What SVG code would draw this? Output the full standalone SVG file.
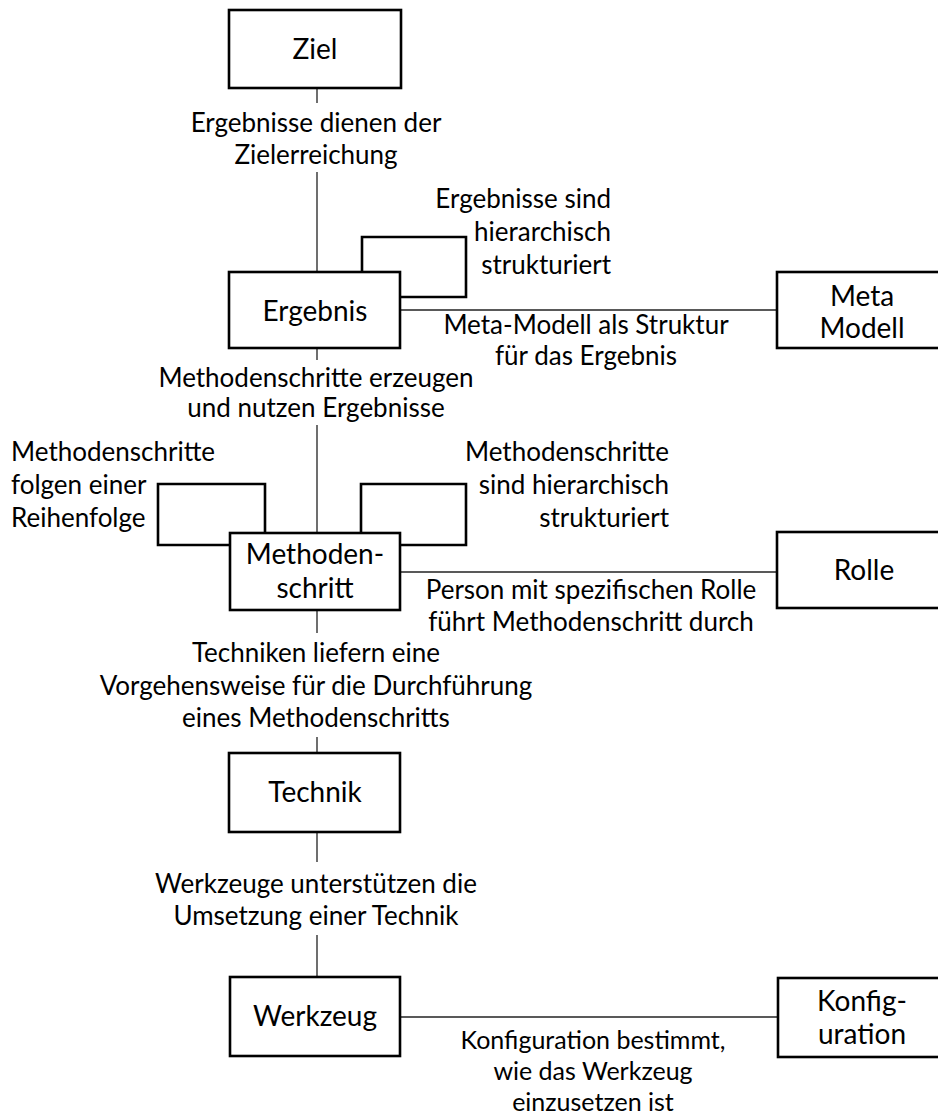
<svg xmlns="http://www.w3.org/2000/svg" width="938" height="1117" viewBox="0 0 938 1117">
  <style>
    .box { fill: #ffffff; stroke: #000000; stroke-width: 2.6; }
    .loop { fill: none; stroke: #000000; stroke-width: 2.6; }
    .edge { fill: none; stroke: #222222; stroke-width: 1.3; }
    .node { font-family: Lato, "Liberation Sans", sans-serif; font-size: 28px; fill: #000000; text-anchor: middle; }
    .lbl { font-family: Lato, "Liberation Sans", sans-serif; font-size: 26px; fill: #000000; }
    .c { text-anchor: middle; }
    .r { text-anchor: end; }
    .l { text-anchor: start; }
    .sm { font-size: 25px; }
  </style>

  <!-- connectors and self-references -->
  <g id="connectors">
    <path class="edge" d="M317 88 V103 M317 172 V272"/>
    <path class="edge" d="M317 348 V360 M317 425 V533"/>
    <path class="edge" d="M317 610 V633 M317 737 V753"/>
    <path class="edge" d="M317 832 V862 M317 935 V977"/>
    <path class="edge" d="M400 310 H777"/>
    <path class="edge" d="M400 572 H777"/>
    <path class="edge" d="M400 1017 H778"/>
    <path class="loop" d="M362 272 V237 H466 V297 H400"/>
    <path class="loop" d="M265 533 V484 H158 V545 H230"/>
    <path class="loop" d="M361 533 V484 H466 V545 H400"/>
  </g>

  <!-- edge labels -->
  <g id="labels" class="lbl">
    <text class="c" x="316" y="132">Ergebnisse dienen der</text>
    <text class="c" x="316" y="164">Zielerreichung</text>

    <text class="r" x="611" y="208">Ergebnisse sind</text>
    <text class="r" x="611" y="241">hierarchisch</text>
    <text class="r" x="611" y="274">strukturiert</text>

    <text class="c" x="586" y="334">Meta-Modell als Struktur</text>
    <text class="c" x="586" y="365">für das Ergebnis</text>

    <text class="c" x="316" y="387">Methodenschritte erzeugen</text>
    <text class="c" x="316" y="417">und nutzen Ergebnisse</text>

    <text class="l" x="11" y="461">Methodenschritte</text>
    <text class="l" x="11" y="494">folgen einer</text>
    <text class="l" x="11" y="527">Reihenfolge</text>

    <text class="r" x="669" y="461">Methodenschritte</text>
    <text class="r" x="669" y="494">sind hierarchisch</text>
    <text class="r" x="669" y="527">strukturiert</text>

    <text class="c" x="591" y="599">Person mit spezifischen Rolle</text>
    <text class="c" x="591" y="631">führt Methodenschritt durch</text>

    <text class="c" x="316" y="662">Techniken liefern eine</text>
    <text class="c" x="316" y="695">Vorgehensweise für die Durchführung</text>
    <text class="c" x="316" y="727">eines Methodenschritts</text>

    <text class="c" x="316" y="893">Werkzeuge unterstützen die</text>
    <text class="c" x="316" y="925">Umsetzung einer Technik</text>

    <text class="c sm" x="593" y="1049">Konfiguration bestimmt,</text>
    <text class="c sm" x="593" y="1080">wie das Werkzeug</text>
    <text class="c sm" x="593" y="1111">einzusetzen ist</text>
  </g>

  <g id="node-ziel">
    <rect class="box" x="229" y="10" width="172" height="78"/>
    <text class="node" x="315" y="59">Ziel</text>
  </g>
  <g id="node-ergebnis">
    <rect class="box" x="229" y="272" width="171" height="76"/>
    <text class="node" x="315" y="321">Ergebnis</text>
  </g>
  <g id="node-metamodell">
    <rect class="box" x="777" y="272" width="172" height="76"/>
    <text class="node" x="862" y="306">Meta</text>
    <text class="node" x="862" y="338">Modell</text>
  </g>
  <g id="node-methodenschritt">
    <rect class="box" x="230" y="533" width="170" height="77"/>
    <text class="node" x="315" y="564">Methoden-</text>
    <text class="node" x="315" y="598">schritt</text>
  </g>
  <g id="node-rolle">
    <rect class="box" x="777" y="532" width="172" height="76"/>
    <text class="node" x="864" y="580">Rolle</text>
  </g>
  <g id="node-technik">
    <rect class="box" x="229" y="753" width="171" height="79"/>
    <text class="node" x="315" y="802">Technik</text>
  </g>
  <g id="node-werkzeug">
    <rect class="box" x="230" y="977" width="170" height="79"/>
    <text class="node" x="315" y="1026">Werkzeug</text>
  </g>
  <g id="node-konfiguration">
    <rect class="box" x="778" y="978" width="172" height="79"/>
    <text class="node" x="862" y="1011">Konfig-</text>
    <text class="node" x="862" y="1044">uration</text>
  </g>
</svg>
